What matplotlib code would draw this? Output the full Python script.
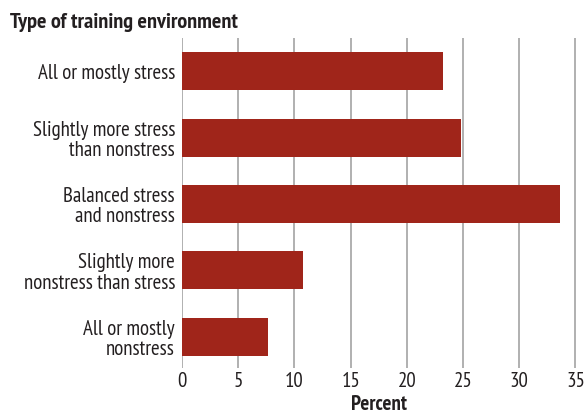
import matplotlib
matplotlib.use("Agg")
import matplotlib.pyplot as plt

categories = ["All or mostly stress",
              "Slightly more stress\nthan nonstress",
              "Balanced stress\nand nonstress",
              "Slightly more\nnonstress than stress",
              "All or mostly\nnonstress"]
values = [23.2, 24.8, 33.6, 10.8, 7.65]
xticks = [0, 5, 10, 15, 20, 25, 30, 35]

plt.rcParams['font.family'] = ['PT Sans Narrow', 'DejaVu Sans']
txt = '#231f20'
fs = 15

fig = plt.figure(figsize=(5.84, 4.15), dpi=100)
ax = fig.add_axes([182/584, 1-368/415, 394/584, 330/415])
y = list(range(len(categories)))
ax.barh(y, values, height=0.57, color='#A0251A', zorder=3)
ax.set_ylim(4.47, -0.5)
ax.set_xlim(0, 35.05)
ax.set_xticks(xticks)
ax.set_xticklabels([str(t) for t in xticks], fontsize=fs, color=txt)
ax.set_yticks(y)
ax.set_yticklabels(categories, fontsize=fs, color=txt, linespacing=1.08)
ax.tick_params(length=0, pad=5)
ax.tick_params(axis='x', pad=3)
for s in ax.spines.values():
    s.set_visible(False)
ax.grid(axis='x', color='#aaaaaa', linewidth=1.3, zorder=0)
ax.set_xlabel("Percent", fontsize=fs, fontweight='bold', color=txt, labelpad=3)
fig.text(10/584, 1-22/415, "Type of training environment", fontsize=16,
         fontweight='bold', color=txt, ha='left', va='center')
fig.savefig("out.png", dpi=100)
